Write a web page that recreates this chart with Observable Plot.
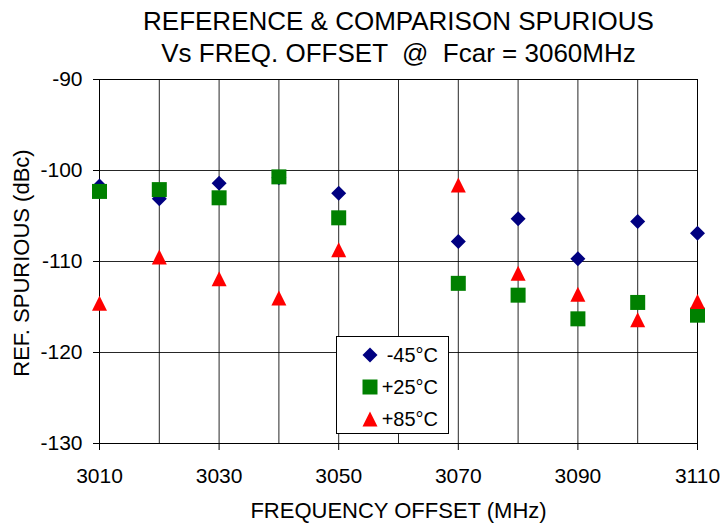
<!DOCTYPE html>
<html><head><meta charset="utf-8">
<script src="https://cdn.jsdelivr.net/npm/d3@7"></script>
<script src="https://cdn.jsdelivr.net/npm/@observablehq/plot@0.6"></script>
<style>
body{margin:0;background:#fff;overflow:hidden;font-family:"Liberation Sans",Arial,sans-serif;}
#wrap{position:relative;width:722px;height:523px;}
#chart{position:absolute;left:0;top:0;}
#title{position:absolute;left:75px;width:647px;top:5px;text-align:center;font-size:26px;line-height:32px;color:#000;white-space:pre;}
#legend{position:absolute;left:336px;top:336px;width:111px;height:96px;border:1px solid #000;background:#fff;}
#legend .item{position:absolute;left:0;width:101px;height:24px;font-size:20px;line-height:24px;text-align:right;}
#legend svg{position:absolute;left:25px;}
</style></head>
<body>
<div id="wrap">
  <div id="chart"></div>
  <div id="title">REFERENCE &amp; COMPARISON SPURIOUS
Vs FREQ. OFFSET  @  Fcar = 3060MHz</div>
  <div id="legend"></div>
</div>
<script>
// ---- data ----
const freqs = [3010, 3020, 3030, 3040, 3050, 3070, 3080, 3090, 3100, 3110];
const seriesNames = ["-45°C", "+25°C", "+85°C"];
const valsM45 = [-101.7, -103.1, -101.4, -100.8, -102.5, -107.8, -105.3, -109.7, -105.6, -106.9];
const valsP25 = [-102.3, -102.1, -103.0, -100.7, -105.2, -112.4, -113.7, -116.3, -114.5, -115.9];
const valsP85 = [-114.6, -109.5, -111.9, -114.0, -108.7, -101.6, -111.3, -113.6, -116.4, -114.4];
const xGrid = [3010, 3020, 3030, 3040, 3050, 3060, 3070, 3080, 3090, 3100, 3110];
const xTicks = [3010, 3030, 3050, 3070, 3090, 3110];
const yTicks = [-130, -120, -110, -100, -90];
const xLabel = "FREQUENCY OFFSET (MHz)";
const yLabel = "REF. SPURIOUS (dBc)";
const colors = ["#000080", "#008000", "#ff0000"];

const rows = (vals) => freqs.map((f, i) => ({f, v: vals[i]}));

// symbols with equal width/height, bbox-centered (like the spreadsheet markers)
const triSym = {draw(ctx, size) { const s = Math.sqrt(size); ctx.moveTo(0, -s / 2); ctx.lineTo(s / 2, s / 2); ctx.lineTo(-s / 2, s / 2); ctx.closePath(); }};
const diaSym = {draw(ctx, size) { const s = Math.sqrt(size) / 2; ctx.moveTo(0, -s); ctx.lineTo(s, 0); ctx.lineTo(0, s); ctx.lineTo(-s, 0); ctx.closePath(); }};
const sqSym = {draw(ctx, size) { const s = Math.sqrt(size) / 2; ctx.moveTo(-s, -s); ctx.lineTo(s, -s); ctx.lineTo(s, s); ctx.lineTo(-s, s); ctx.closePath(); }};
const symbols = [diaSym, sqSym, triSym];
const sizes = [15, 15, 15];
const rFor = (side) => side / Math.sqrt(Math.PI);

const fmt = d => String(d);

const chart = Plot.plot({
  width: 722,
  height: 523,
  marginTop: 79,
  marginBottom: 80,
  marginLeft: 99,
  marginRight: 25,
  style: {fontFamily: "'Liberation Sans', Arial, sans-serif", fontSize: "21px", background: "transparent", color: "#000"},
  x: {domain: [3010, 3110]},
  y: {domain: [-130, -90]},
  marks: [
    Plot.gridX(xGrid, {stroke: "#000", strokeOpacity: 0.85, strokeWidth: 1}),
    Plot.gridY(yTicks, {stroke: "#000", strokeOpacity: 0.85, strokeWidth: 1}),
    Plot.frame({stroke: "#000", strokeWidth: 1}),
    Plot.axisX(xTicks, {tickSize: 7, tickPadding: 18, fontSize: 21, tickFormat: fmt, label: null}),
    Plot.axisY(yTicks, {tickSize: 6, tickPadding: 11, fontSize: 21, tickFormat: fmt, label: null}),
    Plot.text([xLabel], {text: d => d, frameAnchor: "bottom", dy: 74, fontSize: 22}),
    Plot.text([yLabel], {text: d => d, frameAnchor: "left", textAnchor: "middle", dx: -78, dy: 1.5, rotate: -90, fontSize: 22}),
    ...[valsM45, valsP25, valsP85].map((vals, k) =>
      Plot.dot(rows(vals), {x: "f", y: "v", symbol: symbols[k], r: rFor(sizes[k]), fill: colors[k], stroke: "none"}))
  ]
});
document.getElementById("chart").appendChild(chart);

// legend
const legend = document.getElementById("legend");
const legendTops = [6, 38, 70];
seriesNames.forEach((name, k) => {
  const item = document.createElement("div");
  item.className = "item";
  item.style.top = legendTops[k] + "px";
  item.textContent = name;
  const s = 15;
  const svg = d3.create("svg").attr("width", 16).attr("height", 16).attr("viewBox", "-8 -8 16 16")
    .style("top", "4px");
  svg.append("path").attr("d", d3.symbol(symbols[k], s * s)()).attr("fill", colors[k]);
  item.appendChild(svg.node());
  legend.appendChild(item);
});
</script>
</body></html>
